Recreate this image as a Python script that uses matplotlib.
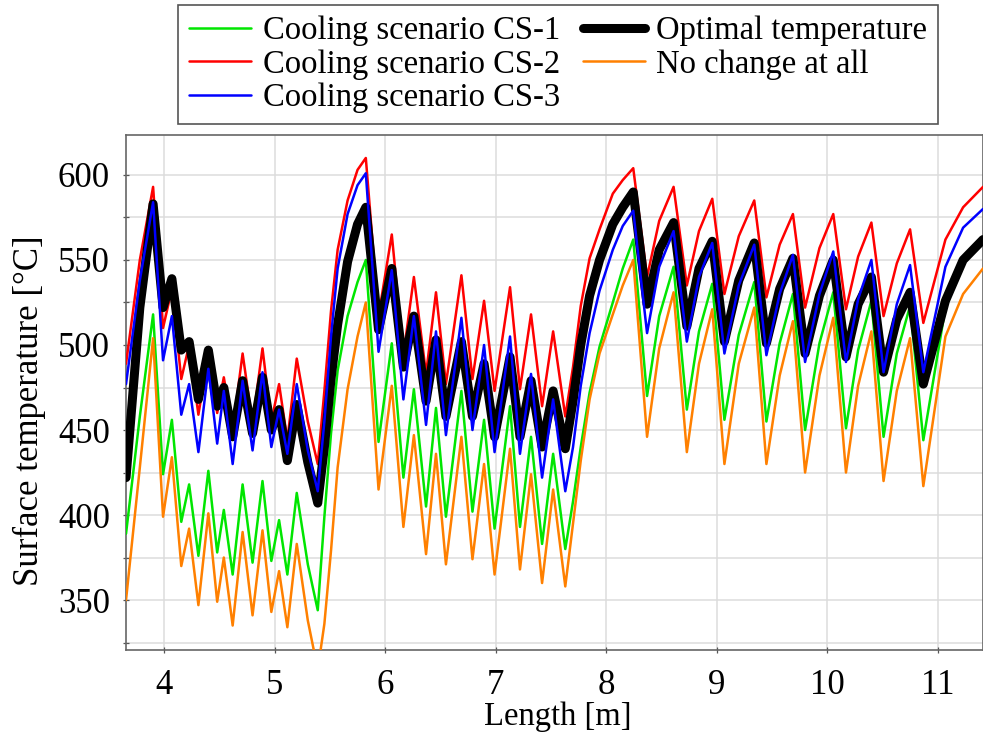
import matplotlib
matplotlib.use("Agg")
import matplotlib.pyplot as plt
from matplotlib.ticker import MultipleLocator

plt.rcParams['font.family'] = ['Liberation Serif', 'DejaVu Serif']
plt.rcParams['mathtext.fontset'] = 'stix'

length_m = [
    3.655, 3.78, 3.90, 3.99, 4.07, 4.155, 4.226, 4.31, 4.40, 4.48, 4.54, 4.62, 4.71, 4.80, 4.89, 4.97, 5.04, 5.115, 5.20, 5.30, 5.39,
    5.45, 5.51, 5.57, 5.66, 5.75, 5.825, 5.94, 6.06, 6.165, 6.26, 6.37, 6.46, 6.55, 6.69, 6.79, 6.895, 6.99, 7.13, 7.22, 7.32, 7.42, 7.52, 7.63,
    7.70, 7.77, 7.85, 7.94, 8.06, 8.15, 8.245, 8.37, 8.48, 8.61, 8.73, 8.84, 8.96, 9.07, 9.20, 9.34, 9.45, 9.57, 9.69, 9.80, 9.93, 10.055,
    10.17, 10.28, 10.40, 10.51, 10.63, 10.75, 10.87, 11.07, 11.23, 11.41,
]

temp_cs2 = [
    489, 550, 593, 510, 533, 480, 500, 459, 495, 460, 481, 450, 495, 454, 498, 455, 477, 444, 492, 455, 430,
    473, 520, 556, 585, 603, 610, 517, 565, 494, 540, 483, 531, 477, 541, 480, 526, 473, 534, 474, 518, 464, 508, 458,
    487, 523, 551, 568, 589, 597, 604, 540, 573, 593, 535, 567, 586, 530, 564, 585, 528, 559, 577, 522, 557, 577,
    521, 552, 572, 517, 548, 568, 513, 562, 581, 593,
]

temp_cs3 = [
    477, 538, 584, 491, 517, 459, 477, 437, 486, 442, 473, 430, 479, 438, 484, 440, 462, 436, 477, 438, 414,
    455, 505, 545, 577, 594, 601, 496, 544, 468, 517, 453, 508, 447, 516, 450, 500, 437, 505, 436, 483, 422, 468, 414,
    440, 476, 507, 532, 556, 570, 579, 507, 546, 567, 502, 540, 560, 495, 535, 559, 494, 530, 553, 490, 530, 555,
    490, 527, 550, 484, 524, 547, 484, 546, 569, 580,
]

temp_opt = [
    422, 522, 583, 522, 539, 497, 502, 468, 497, 464, 475, 446, 479, 448, 481, 450, 462, 432, 465, 431, 407,
    440, 480, 512, 549, 571, 581, 509, 545, 487, 517, 467, 503, 458, 502, 458, 489, 446, 493, 446, 479, 440, 473, 439,
    467, 500, 529, 550, 571, 581, 590, 524, 556, 572, 511, 545, 561, 502, 538, 560, 501, 533, 551, 495, 529, 550,
    493, 524, 540, 484, 515, 531, 477, 526, 550, 562,
]

temp_cs1 = [
    389, 458, 518, 424, 456, 396, 418, 376, 426, 378, 403, 365, 418, 372, 420, 373, 397, 365, 413, 371, 344,
    399, 448, 485, 517, 537, 550, 443, 501, 422, 474, 405, 463, 399, 473, 402, 456, 392, 464, 393, 446, 383, 436, 380,
    408, 440, 472, 499, 525, 545, 562, 470, 517, 546, 462, 508, 536, 456, 506, 537, 455, 501, 530, 450, 501, 531,
    451, 497, 526, 446, 495, 523, 444, 522, 548, 561,
]

temp_none = [
    350, 428, 504, 399, 434, 370, 392, 347, 401, 349, 375, 335, 390, 341, 391, 343, 367, 334, 383, 338, 309,
    336, 379, 428, 474, 505, 525, 415, 476, 393, 447, 377, 436, 371, 446, 374, 430, 365, 439, 368, 424, 360, 415, 358,
    395, 432, 468, 495, 518, 535, 550, 446, 498, 531, 437, 489, 521, 430, 489, 522, 430, 482, 514, 425, 482, 516,
    425, 476, 508, 420, 473, 504, 417, 505, 530, 545,
]

labels = ["Cooling scenario CS-1", "Cooling scenario CS-2", "Cooling scenario CS-3",
          "Optimal temperature", "No change at all"]
x_ticks = [4, 5, 6, 7, 8, 9, 10, 11]
y_ticks = [350, 400, 450, 500, 550, 600]

fig = plt.figure(figsize=(9.83, 7.33), dpi=100)
ax = fig.add_axes([0.1282, 0.1132, 0.8718, 0.7026])

c_green = '#00e600'
c_red = '#ff0000'
c_blue = '#0000ff'
c_orange = '#ff8000'

kw = dict(lw=1.8, solid_joinstyle='round', solid_capstyle='round')
l_red, = ax.plot(length_m, temp_cs2, color=c_red, zorder=3, **kw)
l_green, = ax.plot(length_m, temp_cs1, color=c_green, zorder=3, **kw)
l_orange, = ax.plot(length_m, temp_none, color=c_orange, zorder=3, **kw)
l_black, = ax.plot(length_m, temp_opt, color='black', lw=6.5, zorder=4,
                   solid_joinstyle='round', solid_capstyle='round')
l_blue, = ax.plot(length_m, temp_cs3, color=c_blue, zorder=5, **kw)

ax.set_xlim(3.655, 11.41)
ax.set_ylim(320.6, 623.5)
ax.set_xticks(x_ticks)
ax.set_yticks(y_ticks)
ax.yaxis.set_minor_locator(MultipleLocator(25))
ax.grid(True, which='major', axis='x', color='#dcdcdc', lw=1.1, zorder=0)
ax.grid(True, which='both', axis='y', color='#dcdcdc', lw=1.1, zorder=0)
ax.set_axisbelow(True)

ax.tick_params(axis='both', which='both', direction='inout', length=5, width=0.9,
               color='#555555', labelsize=25)
ax.tick_params(axis='y', which='major', pad=9)
ax.tick_params(axis='x', which='major', pad=11)
for s in ax.spines.values():
    s.set_color('#666666')
    s.set_linewidth(1.2)

fig.text(0.030, 0.4393, "Surface temperature [°C]", rotation=90, ha='center', va='center', fontsize=25)
fig.text(0.5677, 0.0215, "Length [m]", ha='center', va='center', fontsize=23.5)

leg = fig.legend([l_green, l_red, l_blue, l_black, l_orange], labels,
                 loc='upper center', bbox_to_anchor=(0.5677, 0.993), bbox_transform=fig.transFigure,
                 ncol=2, fontsize=23.5, frameon=True, fancybox=False, framealpha=1,
                 handlelength=1.9, handletextpad=0.35, columnspacing=0.7,
                 labelspacing=0.09, borderpad=0.33, borderaxespad=0)
leg.get_frame().set_edgecolor('#555555')
leg.get_frame().set_linewidth(1.2)

fig.savefig("out.png", dpi=100)
